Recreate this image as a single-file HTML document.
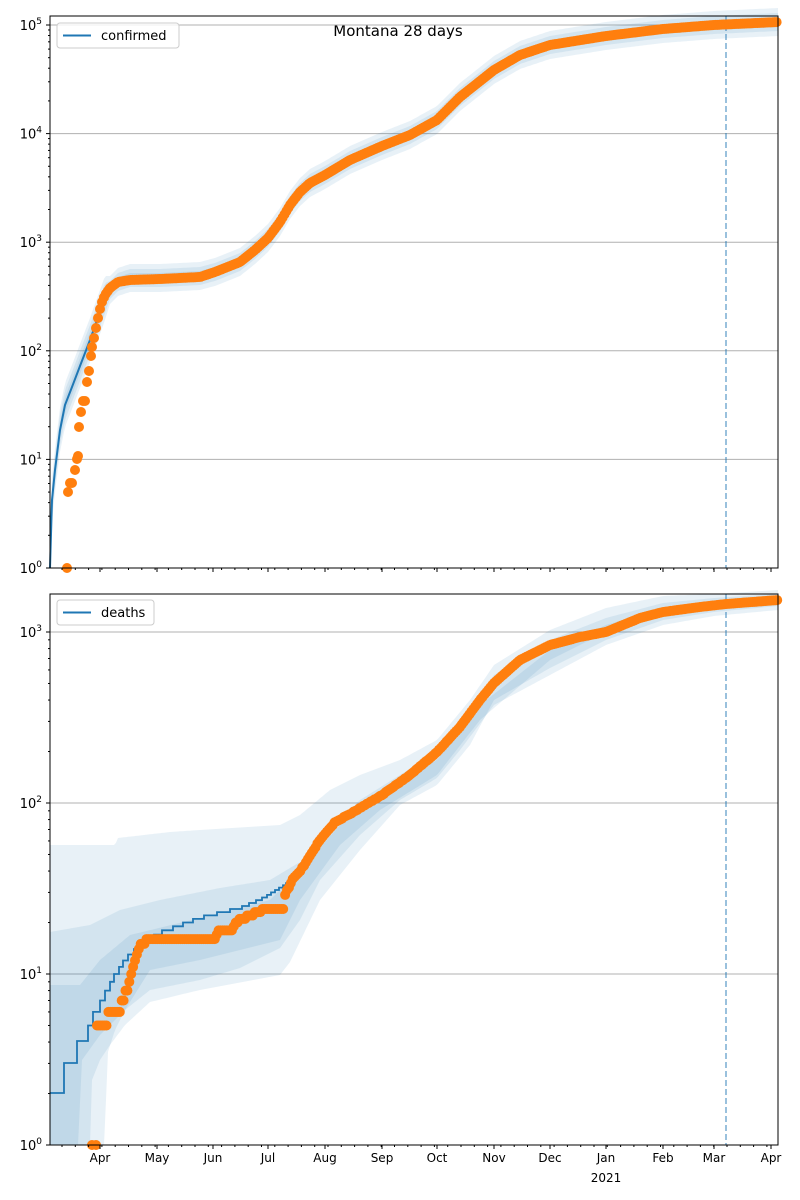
<!DOCTYPE html><html><head><meta charset="utf-8"><style>body{margin:0;background:#fff}svg{display:block;font-family:"DejaVu Sans","Liberation Sans",sans-serif}</style></head><body>
<svg id="s" width="800" height="1200" xmlns="http://www.w3.org/2000/svg">
<text x="398" y="36" font-size="15" text-anchor="middle">Montana 28 days</text>
</svg>
<script>
const S=document.getElementById('s');const NS='http://www.w3.org/2000/svg';
function el(t,a,txt){const e=document.createElementNS(NS,t);for(const k in a)e.setAttribute(k,a[k]);if(txt!==undefined)e.textContent=txt;S.appendChild(e);return e;}
function interp(P,x){if(x<=P[0][0])return P[0][1];for(let i=1;i<P.length;i++){if(x<=P[i][0]){const a=P[i-1],b=P[i];return a[1]+(b[1]-a[1])*(x-a[0])/(b[0]-a[0]||1);}}return P[P.length-1][1];}
const X0=50,X1=778;
const A=[{t:16,b:568,d:108.6,y0:568,dec:[0,1,2,3,4,5]},{t:594,b:1145,d:171,y0:1145,dec:[0,1,2,3]}];
A.forEach(a=>{a.dec.forEach(e=>{if(e>0){const y=a.y0-a.d*e;el('line',{x1:X0,x2:X1,y1:y,y2:y,stroke:'#b0b0b0','stroke-width':1});}});});
function band(up,lo,op){let d='M';const xs=[];for(let x=X0;x<=X1;x+=2)xs.push(x);d+=xs.map(x=>x+' '+interp(up,x).toFixed(1)).join(' L');d+=' L'+xs.slice().reverse().map(x=>x+' '+interp(lo,x).toFixed(1)).join(' L')+'Z';el('path',{d:d,fill:'#1f77b4','fill-opacity':op});}
const topC=[[50,568],[52,500],[55,470],[60,430],[65,405],[72,387],[80,366],[90,340],[100,312],[105,298],[110,290],[118,282],[130,278],[160,278],[200,276],[215,272],[240,262],[255,250],[268,238],[280,222],[290,205],[300,192],[310,183],[325,175],[350,160],[382,146],[410,135],[437,120],[460,97],[494,70],[520,55],[550,45],[606,36],[663,29],[714,25],[778,22]];
function off(P,f){return P.map(p=>[p[0],Math.min(568,p[1]+f(p[0]))]);}
[[22,14],[15,9],[8,5]].forEach(w=>{band(off(topC,x=>-(x<110?w[0]:w[1])),off(topC,x=>(x<110?w[0]:w[1])),0.1);});
band([[50,845],[115,845],[118,838],[170,832],[200,830],[280,825],[300,815],[330,790],[360,775],[400,760],[437,740],[470,700],[494,665],[550,630],[606,608],[663,596],[714,594],[778,590]],
[[50,1145],[105,1145],[107,1055],[115,1030],[125,1010],[150,990],[200,980],[240,968],[280,948],[300,920],[320,880],[360,835],[400,800],[437,778],[460,750],[494,705],[550,675],[606,645],[663,625],[714,616],[778,610]],0.1);
band([[50,932],[90,925],[120,910],[160,900],[220,888],[270,880],[300,862],[330,830],[360,800],[400,775],[437,752],[470,712],[494,675],[550,640],[606,618],[663,603],[714,598],[778,594]],
[[50,1145],[90,1145],[92,1080],[100,1060],[110,1045],[125,1025],[150,1002],[200,990],[280,975],[290,962],[320,900],[360,850],[400,805],[437,785],[470,745],[494,700],[550,668],[606,640],[663,620],[714,612],[778,606]],0.1);
band([[50,985],[80,985],[100,960],[130,935],[200,918],[270,900],[300,870],[340,825],[380,790],[437,760],[480,705],[550,650],[606,625],[663,608],[714,603],[778,598]],
[[50,1145],[78,1145],[82,1060],[100,1035],[125,1010],[150,970],[200,960],[280,940],[300,900],[340,845],[380,810],[437,775],[480,720],[550,660],[606,632],[663,614],[714,608],[778,602]],0.1);
{let d='M'+topC.map(p=>p.join(' ')).join(' L');el('path',{d:d,fill:'none',stroke:'#1f77b4','stroke-width':2});}
function q(y){const v=Math.round(Math.pow(10,(1145-y)/171));return 1145-171*Math.log10(Math.max(v,1));}
{const bc=[[50,1093],[63,1093],[64,1063],[76,1063],[77,1041],[87,1041],[88,1025],[95,1015],[105,995],[115,975],[125,960],[140,945],[160,933],[200,918],[240,908],[260,900],[285,885],[300,868],[320,838],[350,812],[382,792],[410,775],[437,752],[460,725],[480,698],[494,680],[520,657],[550,645],[606,630],[663,612],[714,605],[778,600]];
let d='M50 1093';let prev=1093;for(let x=51;x<=X1;x++){const y=x<88?interp(bc,x):q(interp(bc,x));if(Math.abs(y-prev)>0.01){d+=' H'+x+' V'+y.toFixed(1);prev=y;}}d+=' H'+X1;el('path',{d:d,fill:'none',stroke:'#1f77b4','stroke-width':1.8});}
[[16,568],[594,1145]].forEach(r=>el('line',{x1:726,x2:726,y1:r[0],y2:r[1],stroke:'#1f77b4','stroke-opacity':0.6,'stroke-width':1.5,'stroke-dasharray':'6,3'}));
const OR='#ff7f0e';
function dot(x,y){el('circle',{cx:x,cy:y,r:5,fill:OR});}
[[67,568],[68,492],[70,483],[72,483],[75,470],[77,459],[78,456],[79,427],[81,412],[83,401],[85,401],[87,382],[89,371],[91,356],[92,347],[94,338],[96,328],[98,318],[100,309],[102,302]].forEach(p=>dot(p[0],p[1]));
const topO=[[102,302],[105,295],[110,288],[118,282],[130,280],[160,279],[200,277],[215,272],[240,262],[255,250],[268,238],[280,222],[290,205],[300,192],[310,183],[325,175],[350,160],[382,146],[410,135],[437,120],[460,97],[494,70],[520,55],[550,45],[606,36],[663,29],[714,25],[778,22]];
for(let x=104;x<=778;x+=1.9)dot(x,interp(topO,x));
const bo=[[95,1025],[107,1025],[108,1012],[120,1012],[121,1000],[128,988],[132,973],[136,960],[138,948],[148,940],[150,938],[215,938],[218,930],[232,930],[236,922],[250,915],[262,910],[283,910],[285,895],[292,880],[300,872],[310,855],[320,840],[335,822],[350,814],[382,795],[410,775],[437,752],[460,727],[480,700],[494,683],[520,660],[550,645],[580,637],[606,632],[640,618],[663,612],[700,607],[726,604],[778,600]];
dot(92,1145);dot(96,1145);
for(let x=97;x<=778;x+=1.9)dot(x,q(interp(bo,x)));
const months=[[100,'Apr'],[157,'May'],[213,'Jun'],[268,'Jul'],[325,'Aug'],[382,'Sep'],[437,'Oct'],[494,'Nov'],[550,'Dec'],[606,'Jan'],[663,'Feb'],[714,'Mar'],[771,'Apr']];
A.forEach((a,i)=>{
el('rect',{x:X0,y:a.t,width:X1-X0,height:a.b-a.t,fill:'none',stroke:'#000','stroke-width':1});
a.dec.forEach(e=>{const y=a.y0-a.d*e;el('line',{x1:X0-4,x2:X0,y1:y,y2:y,stroke:'#000'});
const t=el('text',{x:X0-8,y:y+5,'font-size':13,'text-anchor':'end'});t.innerHTML='10<tspan dy="-6" font-size="9">'+e+'</tspan>';
for(let m=2;m<10;m++){const yy=y-a.d*Math.log10(m);if(yy>a.t)el('line',{x1:X0-2,x2:X0,y1:yy,y2:yy,stroke:'#000'});}});
for(let x=62;x<X1;x+=13.3)el('line',{x1:x,x2:x,y1:a.b,y2:a.b+2,stroke:'#000'});
months.forEach(m=>{el('line',{x1:m[0],x2:m[0],y1:a.b,y2:a.b+4,stroke:'#000'});if(i==1)el('text',{x:m[0],y:a.b+17,'font-size':12,'text-anchor':'middle'},m[1]);});
});
el('text',{x:606,y:1182,'font-size':12,'text-anchor':'middle'},'2021');
[[57,23,122,'confirmed'],[57,600,97,'deaths']].forEach(l=>{el('rect',{x:l[0],y:l[1],width:l[2],height:25,rx:3,fill:'#fff','fill-opacity':0.8,stroke:'#ccc'});el('line',{x1:l[0]+6,x2:l[0]+34,y1:l[1]+12.5,y2:l[1]+12.5,stroke:'#1f77b4','stroke-width':2});el('text',{x:l[0]+44,y:l[1]+17,'font-size':13},l[3]);});
</script></body></html>
